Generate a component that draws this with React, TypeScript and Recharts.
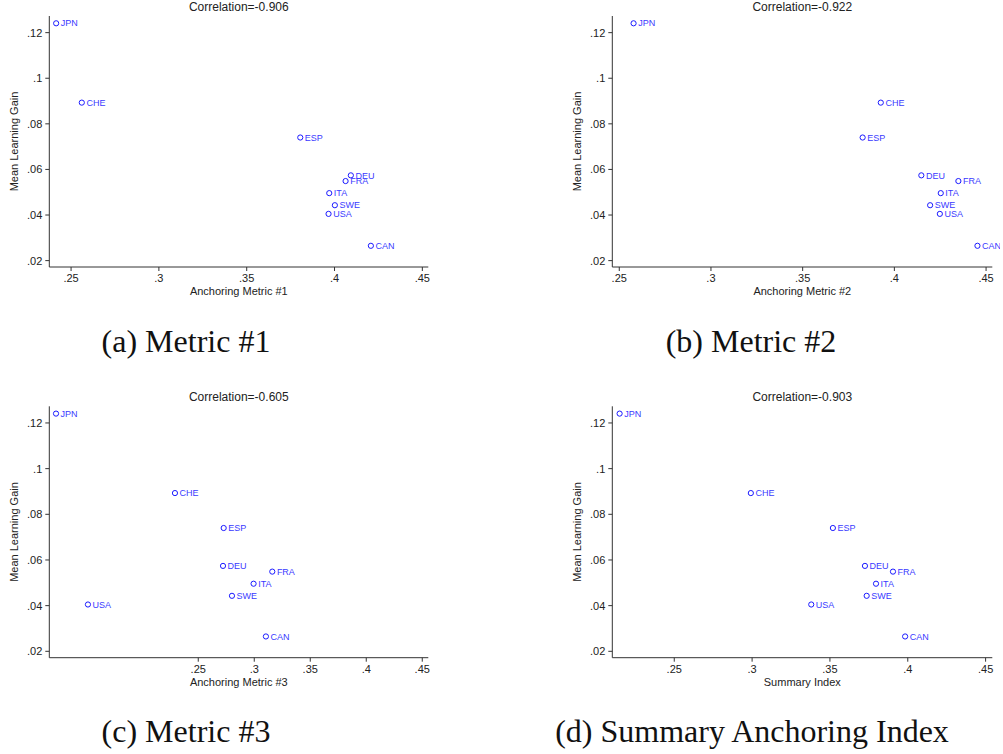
import { ScatterChart, Scatter, XAxis, YAxis } from "recharts";

const FONT = '"Liberation Sans", Arial, Helvetica, sans-serif';

// values
const countries = ["JPN", "CHE", "ESP", "DEU", "FRA", "ITA", "SWE", "USA", "CAN"];
const learningGain = [0.1241, 0.0893, 0.074, 0.0574, 0.0549, 0.0496, 0.0443, 0.0405, 0.0265];
const metric1 = [0.2415, 0.2561, 0.3805, 0.4093, 0.4063, 0.397, 0.4002, 0.3966, 0.4207];
const metric2 = [0.2578, 0.3926, 0.3827, 0.4147, 0.4349, 0.4253, 0.4195, 0.4248, 0.4453];
const metric3 = [0.123, 0.2292, 0.2727, 0.2721, 0.3161, 0.2994, 0.2801, 0.1515, 0.3104];
const summaryIndex = [0.2149, 0.2992, 0.3519, 0.3725, 0.3905, 0.3796, 0.3736, 0.338, 0.3983];

const xTicks = [0.25, 0.3, 0.35, 0.4, 0.45];
const yTicks = [0.02, 0.04, 0.06, 0.08, 0.1, 0.12];

const panels = [
  {
    xs: metric1,
    xLabel: "Anchoring Metric #1",
    corr: "Correlation=-0.906",
    caption: "(a) Metric #1",
    xDomain: [0.2376, 0.4534],
    left: 0,
    top: 0,
    margin: { top: 16, right: 11.7, bottom: 3, left: 9.3 },
    captionX: 186,
  },
  {
    xs: metric2,
    xLabel: "Anchoring Metric #2",
    corr: "Correlation=-0.922",
    caption: "(b) Metric #2",
    xDomain: [0.2462, 0.4534],
    left: 560,
    top: 0,
    margin: { top: 16, right: 7.7, bottom: 3, left: 12.3 },
    captionX: 751,
  },
  {
    xs: metric3,
    xLabel: "Anchoring Metric #3",
    corr: "Correlation=-0.605",
    caption: "(c) Metric #3",
    xDomain: [0.117, 0.4554],
    left: 0,
    top: 390,
    margin: { top: 16.3, right: 11.7, bottom: 2.3, left: 9.3 },
    captionX: 186,
  },
  {
    xs: summaryIndex,
    xLabel: "Summary Index",
    corr: "Correlation=-0.903",
    caption: "(d) Summary Anchoring Index",
    xDomain: [0.2102, 0.4543],
    left: 560,
    top: 390,
    margin: { top: 16.3, right: 7.7, bottom: 2.3, left: 12.3 },
    captionX: 752,
  },
];

const stataTick = (v: number) => String(v).replace(/^0\./, ".");

function CountryDot(props: any) {
  const { cx, cy, payload } = props;
  if (cx == null || cy == null) return null;
  return (
    <g>
      <circle cx={cx} cy={cy} r={2.6} fill="none" stroke="#1a1aff" strokeWidth={1} />
      <text x={cx + 4.6} y={cy + 3.2} fontSize={9} fontFamily={FONT} fill="#3a3aff">
        {payload.country}
      </text>
    </g>
  );
}

function YTitle(props: any) {
  const vb = props.viewBox;
  if (!vb) return null;
  const cx = vb.x + vb.width - 35.5;
  const cy = vb.y + vb.height / 2;
  return (
    <text
      x={cx}
      y={cy}
      transform={`rotate(-90, ${cx}, ${cy})`}
      textAnchor="middle"
      dominantBaseline="central"
      fontSize={11}
      fontFamily={FONT}
      fill="#222"
    >
      Mean Learning Gain
    </text>
  );
}

function Panel({ p }: { p: (typeof panels)[number] }) {
  const data = countries.map((c, i) => ({ country: c, x: p.xs[i], y: learningGain[i] }));
  return (
    <div style={{ position: "absolute", left: p.left, top: p.top, width: 440, height: 300 }}>
      <div
        style={{
          position: "absolute",
          top: 0.5,
          left: p.margin.left + 40,
          width: 440 - p.margin.left - 40 - p.margin.right,
          textAlign: "center",
          fontFamily: FONT,
          fontSize: 12,
          lineHeight: "12px",
          color: "#222",
          whiteSpace: "nowrap",
        }}
      >
        {p.corr}
      </div>
      <ScatterChart width={440} height={300} margin={p.margin}>
        <XAxis
          type="number"
          dataKey="x"
          domain={p.xDomain}
          ticks={xTicks}
          tickFormatter={stataTick}
          height={30}
          tickSize={4}
          tickMargin={3}
          stroke="#333"
          tick={{ fill: "#222", fontSize: 11, fontFamily: FONT }}
          label={{
            value: p.xLabel,
            position: "insideBottom",
            offset: 2,
            fill: "#222",
            fontSize: 11,
            fontFamily: FONT,
          }}
        />
        <YAxis
          type="number"
          dataKey="y"
          domain={[0.0172, 0.1273]}
          ticks={yTicks}
          tickFormatter={stataTick}
          width={40}
          tickSize={4}
          tickMargin={3}
          stroke="#333"
          tick={{ fill: "#222", fontSize: 11, fontFamily: FONT }}
          label={{ content: (lp: any) => <YTitle {...lp} /> }}
        />
        <Scatter data={data} shape={<CountryDot />} isAnimationActive={false} />
      </ScatterChart>
    </div>
  );
}

export default function App() {
  return (
    <div style={{ position: "absolute", left: 0, top: 0, width: 1003, height: 754, background: "#fff" }}>
      {panels.map((p) => (
        <Panel key={p.caption} p={p} />
      ))}
      {panels.map((p) => (
        <div
          key={"cap" + p.caption}
          style={{
            position: "absolute",
            left: p.captionX - 250,
            top: p.top + 325,
            width: 500,
            textAlign: "center",
            fontFamily: '"Liberation Serif", "Times New Roman", serif',
            fontSize: 32,
            lineHeight: "32px",
            color: "#111",
            whiteSpace: "nowrap",
          }}
        >
          {p.caption}
        </div>
      ))}
    </div>
  );
}
